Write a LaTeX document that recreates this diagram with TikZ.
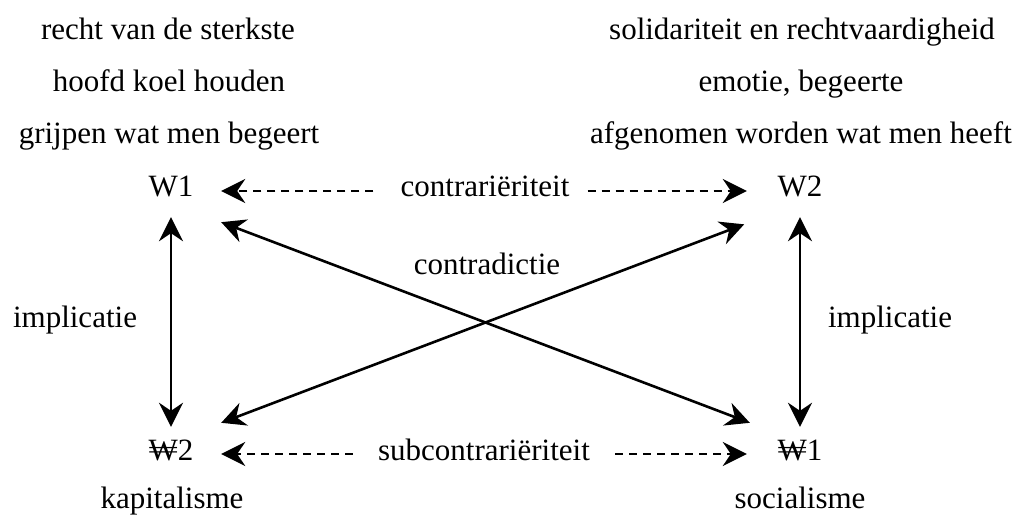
\documentclass[tikz,border=0pt]{standalone}
\usepackage{fontspec}
\setmainfont{Liberation Serif}
\usetikzlibrary{arrows.meta}
\begin{document}
\begin{tikzpicture}[x=1pt,y=-1pt,font=\rmfamily\fontsize{31}{37}\selectfont,
  >={Stealth[length=24pt,width=24pt,inset=8pt]},
  lbl/.style={anchor=base, inner sep=0},
  pole/.style={anchor=base, inner sep=0, minimum width=100, text height=37pt, text depth=25pt},
  rel/.style={anchor=base, inner sep=0, text height=37pt, text depth=25pt},
  link/.style={<->, line width=2.6pt},
  dasharrow/.style={->, line width=2.6pt, dash pattern=on 8pt off 6pt}]
\useasboundingbox (0,0) rectangle (1020,518);
\node[lbl] (l1) at (168,40) {recht van de sterkste};
\node[lbl] (l2) at (169,92) {hoofd koel houden};
\node[lbl] (l3) at (169,144) {grijpen wat men begeert};
\node[lbl] (r1) at (802,40) {solidariteit en rechtvaardigheid};
\node[lbl] (r2) at (801,92) {emotie, begeerte};
\node[lbl] (r3) at (801,144) {afgenomen worden wat men heeft};
\node[pole] (w1) at (171,197) {W1};
\node[pole] (w2) at (800,197) {W2};
\node[pole] (nw2) at (171,460) {₩2};
\node[pole] (nw1) at (800,460) {₩1};
\node[lbl] (kap) at (172,508) {kapitalisme};
\node[lbl] (soc) at (800,508) {socialisme};
\node[rel] (contr) at (485,197) {contrariëriteit};
\node[rel] (subcontr) at (484,460) {subcontrariëriteit};
\node[lbl] (contrad) at (487,275) {contradictie};
\node[lbl] (implL) at (75,328) {implicatie};
\node[lbl] (implR) at (890,328) {implicatie};
\path[draw,dasharrow,shorten <=27pt] (contr.west) -- (w1.east);
\path[draw,dasharrow,shorten <=18pt,shorten >=3pt] (contr.east) -- (w2.west);
\path[draw,dasharrow,shorten <=25pt] (subcontr.west) -- (nw2.east);
\path[draw,dasharrow,shorten <=25pt,shorten >=3pt] (subcontr.east) -- (nw1.west);
\path[draw,link,shorten <=-5pt,shorten >=-4pt] (w1.south) -- (nw2.north);
\path[draw,link,shorten <=-5pt,shorten >=-4pt] (w2.south) -- (nw1.north);
\path[draw,link] (w1.south east) -- (nw1.north west);
\path[draw,link,shorten >=6pt] (nw2.north east) -- (w2.south west);
\end{tikzpicture}
\end{document}
